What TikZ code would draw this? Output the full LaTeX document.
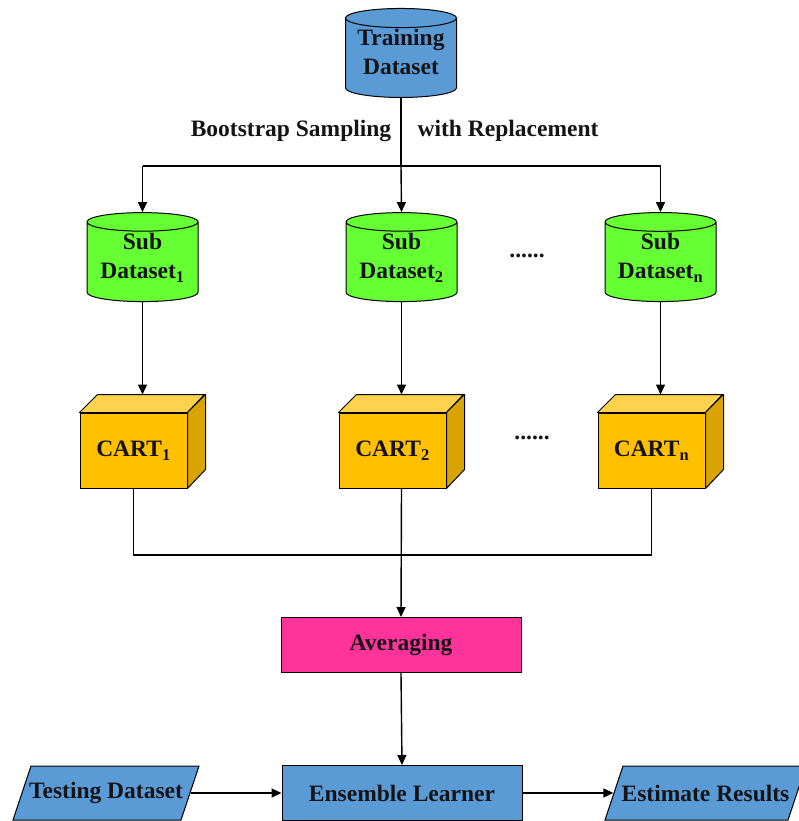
\documentclass[tikz,border=0pt]{standalone}
\usepackage{fontspec}
\setmainfont{Liberation Serif}
\usetikzlibrary{shapes.geometric,arrows.meta}
\definecolor{dsblue}{HTML}{5B9BD5}
\definecolor{subgreen}{HTML}{66FF33}
\definecolor{cartfront}{HTML}{FFC000}
\definecolor{carttop}{HTML}{FFD24D}
\definecolor{cartside}{HTML}{D9A300}
\definecolor{avgpink}{HTML}{FF3399}
\definecolor{txt}{HTML}{141418}
\newcommand\liftlines[1]{\raisebox{3.5pt}[\height][\depth]{\begin{tabular}{@{}c@{}}#1\end{tabular}}}
\begin{document}
\begin{tikzpicture}[x=1pt,y=-1pt,
  font=\fontsize{23.5}{29}\selectfont\bfseries, text=txt,
  line width=1.4pt,
  >={Triangle[length=10pt,width=9pt]},
  db/.style={cylinder, shape border rotate=90, draw, line width=1pt, aspect=0.22,
    minimum width=111pt, minimum height=89pt, inner sep=0pt},
  cartface/.style={rectangle, draw, line width=1pt, fill=cartfront,
    minimum width=107pt, minimum height=75pt, inner sep=0pt},
  boxnode/.style={rectangle, draw, line width=1pt, minimum width=240pt, minimum height=55pt, inner sep=0pt},
  paratext/.style={rectangle, inner sep=0pt, minimum height=54pt},
  lbl/.style={inner sep=0pt}
]
\useasboundingbox (0,0) rectangle (798,821);

% datasets
\node[db, fill=dsblue] (train) at (401,58) {\liftlines{Training\\Dataset}};
\node[db, fill=subgreen] (sub1) at (142.5,262) {\liftlines{Sub\\Dataset\textsubscript{1}}};
\node[db, fill=subgreen] (sub2) at (401.5,262) {\liftlines{Sub\\Dataset\textsubscript{2}}};
\node[db, fill=subgreen] (subn) at (660.5,262) {\liftlines{Sub\\Dataset\textsubscript{n}}};

\node[lbl] (bs) at (291,131) {Bootstrap Sampling};
\node[lbl] (wr) at (508,131) {with Replacement};
\node[lbl] (dots1) at (527,256) {......};
\node[lbl] (dots2) at (532,438) {......};

% CART cubes
\foreach \nm/\cx/\sb in {c1/142.5/1, c2/401.5/2, cn/660.5/n}{
  \node[cartface] (\nm) at (\cx-9,450.5) {CART\textsubscript{\sb}};
  \filldraw[fill=carttop, line width=1pt, line join=round] (\nm.north west) -- ++(18,-18) -- ++(107,0) -- (\nm.north east) -- cycle;
  \filldraw[fill=cartside, line width=1pt, line join=round] (\nm.north east) -- ++(18,-18) -- ++(0,75) -- (\nm.south east) -- cycle;
  \coordinate (\nm t) at ([xshift=9pt,yshift=18pt]\nm.north);
}

\node[boxnode, fill=avgpink] (avg) at (401,645) {Averaging};
\node[boxnode, fill=dsblue] (ens) at (402,793) {Ensemble Learner};

% parallelograms
\filldraw[fill=dsblue, line width=1pt] (13,820) -- (181,820) -- (199,766) -- (31,766) -- cycle;
\node[paratext, minimum width=168pt] (test) at (106,793) {Testing Dataset};
\filldraw[fill=dsblue, line width=1pt] (605,820) -- (788,820) -- (806,766) -- (623,766) -- cycle;
\node[paratext, minimum width=183pt] (est) at (705.5,793) {Estimate Results};

% connectors
\coordinate (split) at (401,166);
\coordinate (join) at (401,555);
\draw (train.south) -- (split);
\draw (sub1.north |- split) -- (subn.north |- split);
\draw[->] (sub1.north |- split) -- (sub1.north);
\draw[->] (split) -- (sub2.north);
\draw[->] (subn.north |- split) -- (subn.north);

\draw[->] (sub1.south) -- (c1t);
\draw[->] (sub2.south) -- (c2t);
\draw[->] (subn.south) -- (cnt);

\draw (c1.south) -- (c1.south |- join) -- (cn.south |- join) -- (cn.south);
\draw[->] ([xshift=9pt]c2.south) -- (avg.north);
\draw[->] (avg.south) -- (ens.north);
\draw[->] (test.east) -- (ens.west);
\draw[->] (ens.east) -- (est.west);
\end{tikzpicture}
\end{document}
